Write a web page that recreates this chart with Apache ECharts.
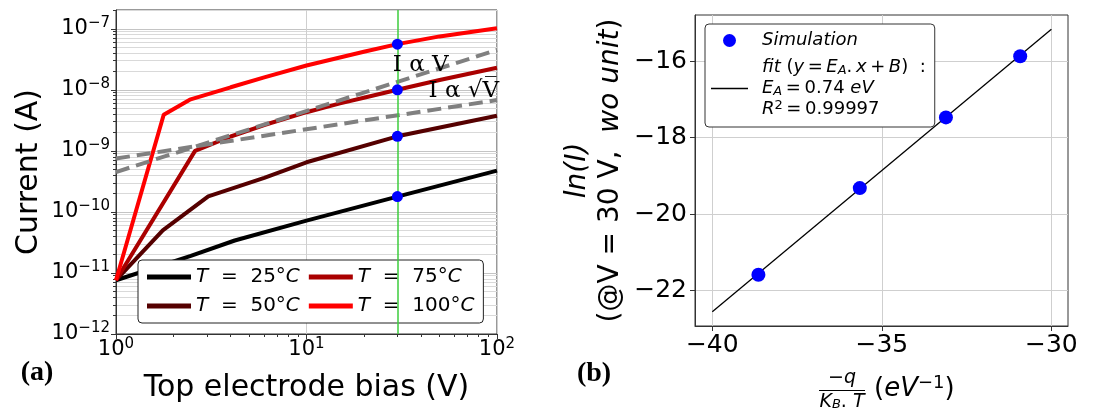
<!DOCTYPE html>
<html>
<head>
<meta charset="utf-8">
<script src="https://cdn.jsdelivr.net/npm/echarts@6/dist/echarts.min.js"></script>
<style>html,body{margin:0;padding:0;background:#fff}#c{width:1100px;height:408px}</style>
</head>
<body>
<div id="c"></div>
<script>
// ---------- data: panel (a) ----------
const tempLabels = ['25', '50', '75', '100'];
const tempColors = ['#000000', '#550000', '#aa0000', '#ff0000'];
const curve25  = [[1,7.6e-12],[2.47,1.9e-11],[4.2,3.4e-11],[10,7.2e-11],[30,1.78e-10],[100,4.74e-10]];
const curve50  = [[1,7.6e-12],[1.76,5.0e-11],[3.05,1.8e-10],[6,3.6e-10],[10,6.5e-10],[30,1.73e-9],[100,3.76e-9]];
const curve75  = [[1,7.6e-12],[2.6,1.0e-9],[4,1.72e-9],[6,2.65e-9],[10,4.3e-9],[15,6.0e-9],[20,7.4e-9],[30,1.0e-8],[50,1.45e-8],[100,2.3e-8]];
const curve100 = [[1,7.6e-12],[1.78,3.9e-9],[2.44,6.9e-9],[4,1.1e-8],[6,1.6e-8],[10,2.5e-8],[20,4.2e-8],[30,5.6e-8],[50,7.5e-8],[100,1.02e-7]];
const ohmicGuide = [[1,4.5e-10],[100,4.5e-8]];
const sqrtGuide  = [[1,7.5e-10],[100,6.8e-9]];
const ohmicLabelAt = [39.8, 2.55e-8];
const sqrtLabelAt  = [67, 9.6e-9];
const probeV = 30;
const xTicksA = [1, 10, 100];
const yTicksA = [1e-12, 1e-11, 1e-10, 1e-9, 1e-8, 1e-7];
const xRangeA = [1, 100];
const yRangeA = [1e-12, 2.03e-7];

// ---------- data: panel (b) ----------
const simX = [-38.64, -35.65, -33.11, -30.92];
const simY = [-21.59, -19.32, -17.47, -15.87];
const fitLine = [[-40, -22.56], [-30, -15.16]];
const fitEA = '0.74';
const fitR2 = '0.99997';
const xTicksB = [-40, -35, -30];
const yTicksB = [-22, -20, -18, -16];
const xRangeB = [-40.51, -29.51];
const yRangeB = [-22.93, -14.79];

// ---------- helpers ----------
const curves = [curve25, curve50, curve75, curve100];
const probeI = curves.map(c => c.find(p => p[0] === probeV)[1]);
function minorLog(lo, hi) {
  const out = [];
  for (let e = Math.floor(Math.log10(lo)); e <= Math.ceil(Math.log10(hi)); e++) {
    for (let k = 2; k <= 9; k++) { const v = k * Math.pow(10, e); if (v > lo && v < hi) out.push(v); }
  }
  return out;
}
const SANS = '"DejaVu Sans", sans-serif';
const TS = '\u2009';
const minus = v => (v < 0 ? '\u2212' : '') + Math.abs(v);
const pow10Label = v => { const e = Math.round(Math.log10(v)); return '{b|10}{s|' + minus(e) + '}'; };
const powRich = {
  b: { fontSize: 21, fontFamily: SANS, color: '#000', lineHeight: 24 },
  s: { fontSize: 15, fontFamily: SANS, color: '#000', lineHeight: 18, padding: [0, 0, 12, 0] }
};
const gridLineCol = '#cfcfcf';
const spineCol = '#333';

const chart = echarts.init(document.getElementById('c'), null, { renderer: 'canvas' });

const option = {
  animation: false,
  backgroundColor: '#fff',
  grid: [
    { left: 116, top: 10, width: 381, height: 333, show: true, borderColor: spineCol, borderWidth: 1, backgroundColor: 'transparent' },
    { left: 695, top: 15, width: 373, height: 311, show: true, borderColor: spineCol, borderWidth: 1, backgroundColor: 'transparent' }
  ],
  xAxis: [
    { type: 'log', logBase: 10, gridIndex: 0, min: xRangeA[0], max: xRangeA[1],
      name: 'Top electrode bias (V)', nameLocation: 'middle', nameGap: 39,
      nameTextStyle: { fontSize: 30, fontFamily: SANS, color: '#000' },
      axisLine: { show: true, lineStyle: { color: spineCol, width: 1 } },
      axisTick: { show: true, inside: false, length: 5, customValues: xTicksA, lineStyle: { color: spineCol } },
      axisLabel: { show: true, customValues: xTicksA, margin: 4, formatter: pow10Label, rich: powRich },
      splitLine: { show: true, lineStyle: { color: gridLineCol, width: 1 } } },
    { type: 'log', logBase: 10, gridIndex: 0, min: xRangeA[0], max: xRangeA[1], position: 'bottom',
      axisLine: { show: false },
      axisTick: { show: true, length: 3, customValues: minorLog(xRangeA[0], xRangeA[1]), lineStyle: { color: spineCol } },
      axisLabel: { show: false }, splitLine: { show: false } },
    { type: 'value', gridIndex: 1, min: xRangeB[0], max: xRangeB[1],
      axisLine: { show: true, lineStyle: { color: spineCol, width: 1 } },
      axisTick: { show: true, length: 5, customValues: xTicksB, lineStyle: { color: spineCol } },
      axisLabel: { show: true, customValues: xTicksB, margin: 7, fontSize: 25, fontFamily: SANS, color: '#000', formatter: minus },
      splitLine: { show: true, lineStyle: { color: gridLineCol, width: 1 } } }
  ],
  yAxis: [
    { type: 'log', logBase: 10, gridIndex: 0, min: yRangeA[0], max: yRangeA[1],
      name: 'Current (A)', nameLocation: 'middle', nameRotate: 90, nameGap: 72,
      nameTextStyle: { fontSize: 30, fontFamily: SANS, color: '#000' },
      axisLine: { show: true, lineStyle: { color: spineCol, width: 1 } },
      axisTick: { show: true, length: 5, customValues: yTicksA, lineStyle: { color: spineCol } },
      axisLabel: { show: true, customValues: yTicksA, margin: 6, formatter: pow10Label, rich: powRich },
      splitLine: { show: true, lineStyle: { color: '#c4c4c4', width: 1 } } },
    { type: 'log', logBase: 10, gridIndex: 0, min: yRangeA[0], max: yRangeA[1], position: 'left',
      axisLine: { show: false },
      axisTick: { show: true, length: 3, customValues: minorLog(yRangeA[0], yRangeA[1]), lineStyle: { color: spineCol } },
      axisLabel: { show: false },
      splitLine: { show: true, lineStyle: { color: '#d9d9d9', width: 1 } } },
    { type: 'value', gridIndex: 1, min: yRangeB[0], max: yRangeB[1],
      name: '{i|ln(I)}\n(@V = 30 V,  {i|wo unit})', nameLocation: 'middle', nameRotate: 90, nameGap: 68,
      nameTextStyle: { fontSize: 28, lineHeight: 33, fontFamily: SANS, color: '#000',
        rich: { i: { fontSize: 28, lineHeight: 33, fontStyle: 'italic', fontFamily: SANS, color: '#000' } } },
      axisLine: { show: true, lineStyle: { color: spineCol, width: 1 } },
      axisTick: { show: true, length: 5, customValues: yTicksB, lineStyle: { color: spineCol } },
      axisLabel: { show: true, customValues: yTicksB, margin: 8, fontSize: 25, fontFamily: SANS, color: '#000', formatter: minus },
      splitLine: { show: true, lineStyle: { color: gridLineCol, width: 1 } } }
  ],
  legend: [
    { data: ['25', '75', '50', '100'], left: 138, top: 260, width: 345, orient: 'horizontal',
      itemGap: 9, itemWidth: 44, itemHeight: 5, icon: 'rect', padding: [7, 9, 7, 9],
      borderColor: '#222', borderWidth: 1, borderRadius: 4, backgroundColor: '#fff',
      formatter: n => '{i|T}  =  ' + n + '°{i|C}',
      textStyle: { fontSize: 20, fontFamily: SANS, color: '#000',
        rich: { i: { fontSize: 20, fontStyle: 'italic', fontFamily: SANS, color: '#000' } } } },
    { data: [{ name: 'Simulation', icon: 'circle' }, { name: 'fit', icon: 'path://M0,0H37V1.3H0Z' }],
      left: 705, top: 24, orient: 'vertical', symbolKeepAspect: true,
      itemGap: 6, itemWidth: 37, itemHeight: 13, padding: [6, 9, 7, 6],
      borderColor: '#333', borderWidth: 1, borderRadius: 4, backgroundColor: '#fff',
      formatter: n => n === 'Simulation' ? '{i|Simulation}'
        : '{i|fit} ({i|y}' + TS + '=' + TS + '{i|E}{sub|A}.' + TS + '{i|x}' + TS + '+' + TS + '{i|B})  :\n{i|E}{sub|A}' + TS + '=' + TS + fitEA + ' {i|eV}\n{i|R}{sup|2}' + TS + '=' + TS + fitR2,
      textStyle: { fontSize: 18, lineHeight: 21, fontFamily: SANS, color: '#000', padding: [0, 0, 0, 9],
        rich: {
          i: { fontSize: 18, lineHeight: 21, fontStyle: 'italic', fontFamily: SANS, color: '#000' },
          sub: { fontSize: 13, lineHeight: 15, fontStyle: 'italic', fontFamily: SANS, color: '#000', padding: [6, 0, 0, 0] },
          sup: { fontSize: 13, lineHeight: 15, fontFamily: SANS, color: '#000', padding: [0, 0, 8, 0] }
        } } }
  ],
  series: [
    ...curves.map((c, i) => ({
      name: tempLabels[i], type: 'line', xAxisIndex: 0, yAxisIndex: 0, data: c,
      showSymbol: false, symbol: 'none', z: 3,
      lineStyle: { color: tempColors[i], width: 4 }, itemStyle: { color: tempColors[i] }
    })),
    { name: 'ohmic', type: 'line', xAxisIndex: 0, yAxisIndex: 0, data: ohmicGuide, symbol: 'none', z: 4,
      lineStyle: { color: '#808080', width: 4, type: [14, 7] },
      markPoint: { symbol: 'circle', symbolSize: 0, silent: true,
        label: { show: true, position: 'inside', formatter: 'I α V', fontFamily: '"DejaVu Serif", serif', fontSize: 23, color: '#000' },
        data: [{ coord: ohmicLabelAt }] } },
    { name: 'sqrt', type: 'line', xAxisIndex: 0, yAxisIndex: 0, data: sqrtGuide, symbol: 'none', z: 4,
      lineStyle: { color: '#808080', width: 4, type: [14, 7] },
      markPoint: { symbol: 'circle', symbolSize: 0, silent: true,
        label: { show: true, position: 'inside', formatter: 'I α \u221AV\u0305', fontFamily: '"DejaVu Serif", serif', fontSize: 23, color: '#000' },
        data: [{ coord: sqrtLabelAt }] } },
    { name: 'probe', type: 'scatter', xAxisIndex: 0, yAxisIndex: 0, z: 6,
      data: probeI.map(v => [probeV, v]), symbolSize: 11, itemStyle: { color: '#0000ff', opacity: 1 },
      markLine: { silent: true, symbol: 'none', label: { show: false },
        emphasis: { disabled: true },
        lineStyle: { color: '#3ccc3c', width: 1.5, type: 'solid', opacity: 1 },
        data: [{ xAxis: probeV, lineStyle: { color: '#3ccc3c', width: 1.5 } }] } },
    { name: 'Simulation', type: 'scatter', xAxisIndex: 2, yAxisIndex: 2, z: 5,
      data: simX.map((x, i) => [x, simY[i]]), symbolSize: 14, itemStyle: { color: '#0000ff', opacity: 1 } },
    { name: 'fit', type: 'line', xAxisIndex: 2, yAxisIndex: 2, data: fitLine, symbol: 'none', showSymbol: false, z: 4,
      lineStyle: { color: '#000', width: 1.3 }, itemStyle: { color: '#000' } }
  ],
  graphic: [
    { type: 'text', x: 37, y: 373, style: { text: '(a)', font: 'bold 28px "Liberation Serif", serif', fill: '#000', align: 'center', verticalAlign: 'middle' } },
    { type: 'text', x: 594, y: 374, style: { text: '(b)', font: 'bold 28px "Liberation Serif", serif', fill: '#000', align: 'center', verticalAlign: 'middle' } },
    { type: 'text', x: 842, y: 378, style: { text: '{u|\u2212}{i|q}', align: 'center', verticalAlign: 'middle',
        rich: { u: { fontSize: 19, fontFamily: SANS, fill: '#000' }, i: { fontSize: 19, fontFamily: SANS, fontStyle: 'italic', fill: '#000' } } } },
    { type: 'line', shape: { x1: 819, y1: 390.5, x2: 865, y2: 390.5 }, style: { stroke: '#000', lineWidth: 1 } },
    { type: 'text', x: 842, y: 402, style: { text: '{i|K}{s|B}{u|. }{i|T}', align: 'center', verticalAlign: 'middle',
        rich: { u: { fontSize: 19, fontFamily: SANS, fill: '#000' }, i: { fontSize: 19, fontFamily: SANS, fontStyle: 'italic', fill: '#000' },
                s: { fontSize: 13, fontFamily: SANS, fontStyle: 'italic', fill: '#000', padding: [6, 0, 0, 0] } } } },
    { type: 'text', x: 874, y: 389, style: { text: '{u|(}{i|eV}{p|\u22121}{u|)}', align: 'left', verticalAlign: 'middle',
        rich: { u: { fontSize: 26, fontFamily: SANS, fill: '#000' }, i: { fontSize: 26, fontFamily: SANS, fontStyle: 'italic', fill: '#000' },
                p: { fontSize: 18, fontFamily: SANS, fill: '#000', padding: [0, 0, 12, 0] } } } }
  ]
};
chart.setOption(option);
</script>
</body>
</html>
